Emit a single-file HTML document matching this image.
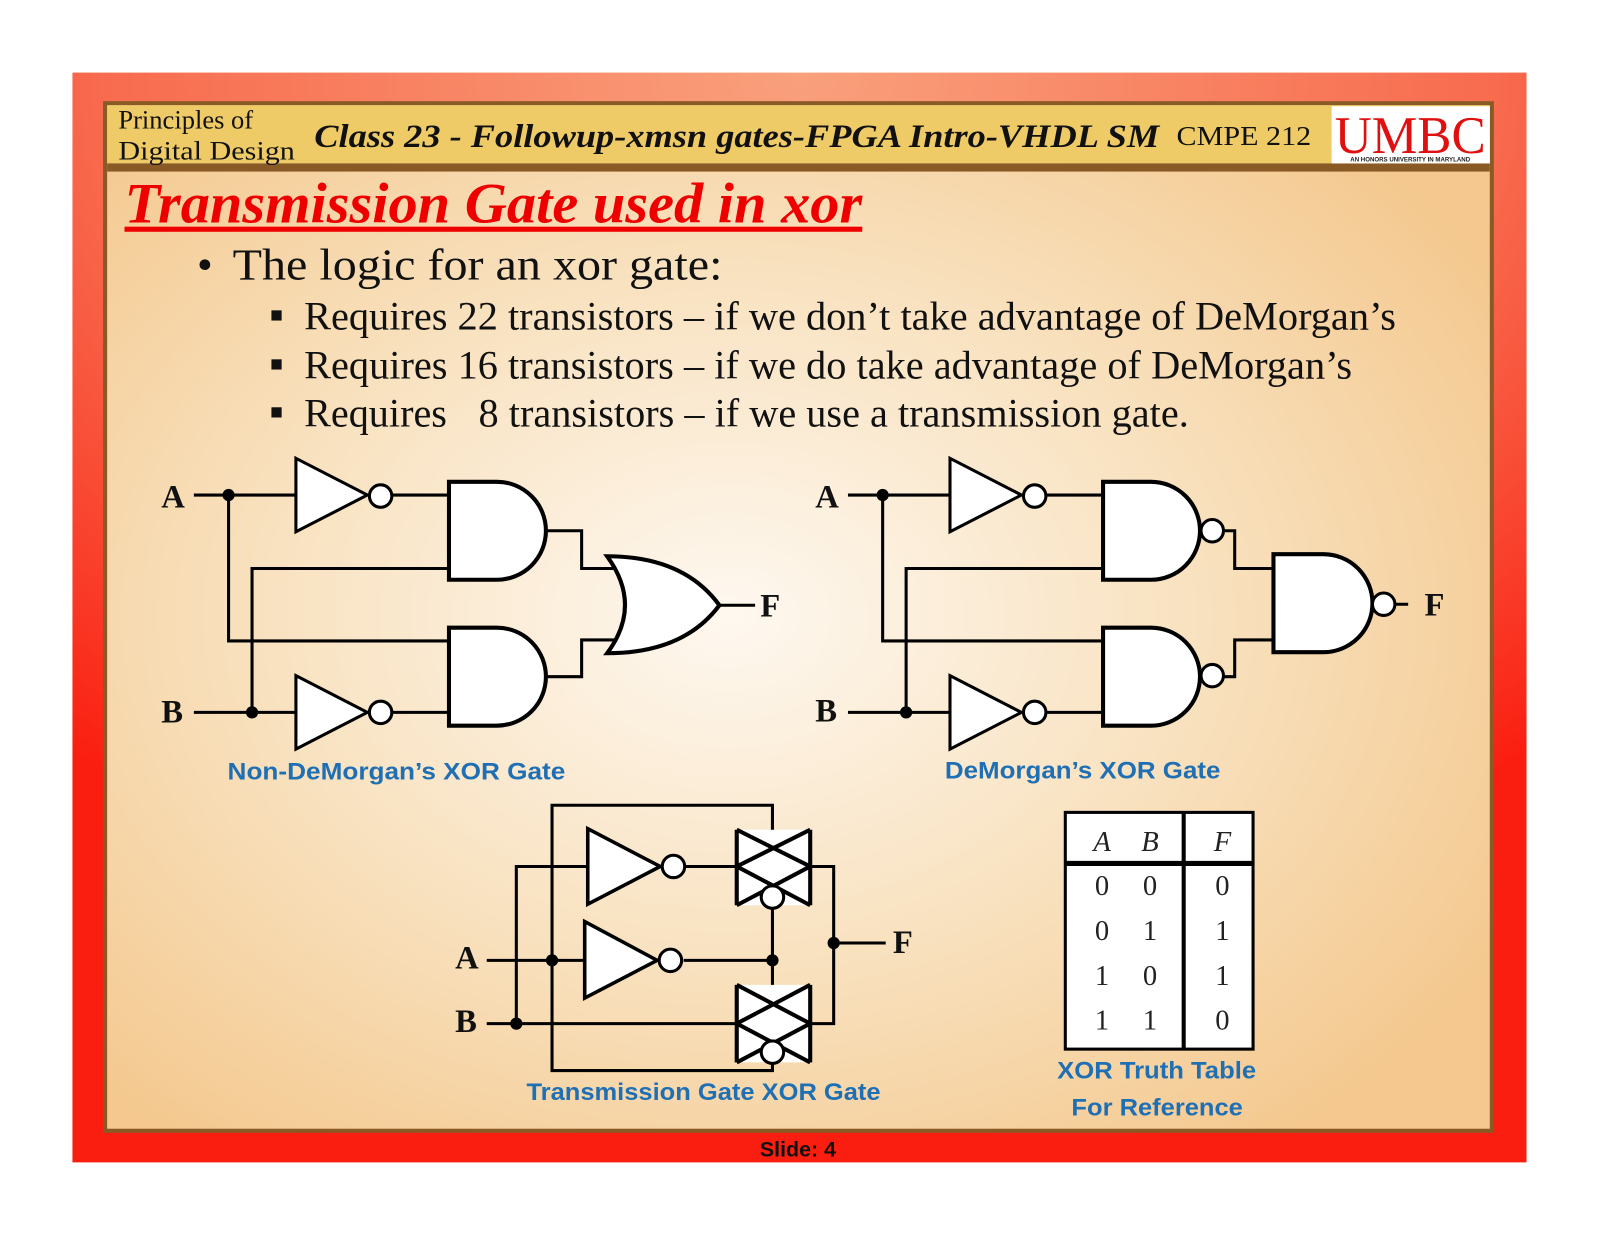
<!DOCTYPE html>
<html><head><meta charset="utf-8"><style>
html,body{margin:0;padding:0;background:#fff;}
svg{display:block;}
</style></head><body>
<svg width="1600" height="1236" viewBox="0 0 1568 1211" xmlns="http://www.w3.org/2000/svg">
<defs>
<radialGradient id="red" cx="0.5" cy="0" r="0.8">
<stop offset="0" stop-color="#F9A07C"/><stop offset="0.6" stop-color="#F86B4E"/><stop offset="1" stop-color="#FA1E10"/>
</radialGradient>
<radialGradient id="cream" cx="0.45" cy="0.5" r="0.65">
<stop offset="0" stop-color="#FEF8F0"/><stop offset="0.55" stop-color="#F8E0BC"/><stop offset="1" stop-color="#F4C88E"/>
</radialGradient>
</defs>
<rect x="0" y="0" width="1568" height="1211" fill="#fff"/>
<rect x="71" y="71" width="1425" height="1068" fill="url(#red)"/>
<rect x="103" y="101" width="1359" height="1007" fill="url(#cream)" stroke="#8A5A26" stroke-width="4"/>
<rect x="105" y="103" width="1355" height="57" fill="#EFCB68"/>
<rect x="105" y="160" width="1355" height="8" fill="#8A5A26"/>
<rect x="1305" y="104" width="155" height="56" fill="#fff"/>
<text x="1382" y="150" text-anchor="middle" font-family="Liberation Serif,serif" font-size="52" fill="#E01010" textLength="148" lengthAdjust="spacingAndGlyphs">UMBC</text>
<text x="1382" y="158" text-anchor="middle" font-family="Liberation Sans,sans-serif" font-size="6" font-weight="bold" fill="#222">AN HONORS UNIVERSITY IN MARYLAND</text>
<g font-family="Liberation Serif,serif" fill="#111" xml:space="preserve">
<text x="116" y="126" font-size="26">Principles of</text>
<text x="116" y="156" font-size="26" textLength="173" lengthAdjust="spacingAndGlyphs">Digital Design</text>
<text x="308" y="144" font-size="32" font-style="italic" font-weight="bold" textLength="828" lengthAdjust="spacingAndGlyphs">Class 23 - Followup-xmsn gates-FPGA Intro-VHDL SM</text>
<text x="1153" y="142" font-size="27" textLength="132" lengthAdjust="spacingAndGlyphs">CMPE 212</text>
<text x="122" y="218" font-size="56" font-style="italic" font-weight="bold" fill="#E00" textLength="723" lengthAdjust="spacingAndGlyphs">Transmission Gate used in xor</text>
<text x="193" y="274" font-size="44">•</text>
<text x="228" y="274" font-size="44" textLength="480" lengthAdjust="spacingAndGlyphs">The logic for an xor gate:</text>
<text x="298" y="323" font-size="39" textLength="1070" lengthAdjust="spacingAndGlyphs">Requires 22 transistors – if we don’t take advantage of DeMorgan’s</text>
<text x="298" y="371" font-size="39" textLength="1027" lengthAdjust="spacingAndGlyphs">Requires 16 transistors – if we do take advantage of DeMorgan’s</text>
<text x="298" y="418" font-size="39" textLength="140" lengthAdjust="spacingAndGlyphs">Requires</text>
<text x="469" y="418" font-size="39" textLength="696" lengthAdjust="spacingAndGlyphs">8 transistors – if we use a transmission gate.</text>
</g>
<rect x="122" y="222" width="723" height="5" fill="#E00"/>
<rect x="266" y="304" width="10" height="10" fill="#111"/>
<rect x="266" y="352" width="10" height="10" fill="#111"/>
<rect x="266" y="399" width="10" height="10" fill="#111"/>

<g stroke="#000" stroke-width="3" fill="none">
<!-- circuit 1 -->
<path d="M190 485H290M385 485H440M190 698H290M385 698H440M224 485V628H440M247 698V557H440M535 520H570V557H610M535 663H570V627H610M705 593H740"/>
<path d="M290 449L360 485L290 521Z M290 662L360 698L290 734Z" fill="#fff"/>
<circle cx="373" cy="486" r="11" fill="#fff"/><circle cx="373" cy="698" r="11" fill="#fff"/>
<path d="M440 472H487A48 48 0 0 1 487 568H440Z M440 615H487A48 48 0 0 1 487 711H440Z" fill="#fff" stroke-width="4"/>
<path d="M595 545Q670 545 705 593Q670 640 595 640Q630 593 595 545Z" fill="#fff" stroke-width="4"/>
<!-- circuit 2 -->
<path d="M831 485H931M1026 485H1081M831 698H931M1026 698H1081M865 485V628H1081M888 698V557H1081M1199 520H1210V557H1248M1199 663H1210V627H1248M1368 592H1380"/>
<path d="M931 449L1001 485L931 521Z M931 662L1001 698L931 734Z" fill="#fff"/>
<circle cx="1014" cy="486" r="11" fill="#fff"/><circle cx="1014" cy="698" r="11" fill="#fff"/>
<path d="M1081 472H1128A48 48 0 0 1 1128 568H1081Z M1081 615H1128A48 48 0 0 1 1128 711H1081Z M1248 543H1297A48 48 0 0 1 1297 639H1248Z" fill="#fff" stroke-width="4"/>
<circle cx="1188" cy="520" r="11" fill="#fff"/><circle cx="1188" cy="662" r="11" fill="#fff"/><circle cx="1356" cy="592" r="11" fill="#fff"/>
<!-- circuit 3 -->
<path d="M477 941H575M670 941H757M477 1003H722M541 941V789H757V831M541 941V1049H757V1040M506 1003V849H576M671 849H722M757 890V984M794 849H817V1003H794M817 924H868"/>
<path d="M576 812L647 849L576 886Z M573 903L644 941L573 978Z" fill="#fff" stroke-width="3.5"/>
<circle cx="660" cy="849" r="11" fill="#fff"/><circle cx="657" cy="941" r="11" fill="#fff"/>
<g stroke-width="4">
<path d="M722 813V887H794V813Z" fill="#fff" stroke="none"/>
<path d="M722 813V887M794 813V887M722 813L794 849M794 813L722 849M722 849L794 887M794 849L722 887"/>
<path d="M722 965V1041H794V965Z" fill="#fff" stroke="none"/>
<path d="M722 965V1041M794 965V1041M722 965L794 1003M794 965L722 1003M722 1003L794 1041M794 1003L722 1041"/>
</g>
<circle cx="757" cy="879" r="11" fill="#fff"/><circle cx="757" cy="1031" r="11" fill="#fff"/>
</g>
<g fill="#000">
<circle cx="224" cy="485" r="6"/><circle cx="247" cy="698" r="6"/>
<circle cx="865" cy="485" r="6"/><circle cx="888" cy="698" r="6"/>
<circle cx="541" cy="941" r="6"/><circle cx="506" cy="1003" r="6"/><circle cx="757" cy="941" r="6"/><circle cx="817" cy="924" r="6"/>
</g>
<g font-family="Liberation Serif,serif" font-weight="bold" font-size="32" fill="#111">
<text x="158" y="497">A</text><text x="158" y="708">B</text><text x="745" y="604">F</text>
<text x="799" y="497">A</text><text x="799" y="707">B</text><text x="1396" y="603">F</text>
<text x="446" y="949">A</text><text x="446" y="1011">B</text><text x="875" y="934">F</text>
</g>
<!-- truth table -->
<rect x="1044" y="796" width="184" height="232" fill="#fff" stroke="#000" stroke-width="3"/>
<path d="M1160 796V1028" stroke="#000" stroke-width="4"/>
<path d="M1044 846H1228" stroke="#000" stroke-width="5"/>
<g font-family="Liberation Serif,serif" font-size="28" fill="#222" text-anchor="middle">
<g font-style="italic"><text x="1080" y="834">A</text><text x="1127" y="834">B</text><text x="1198" y="834">F</text></g>
<text x="1080" y="877">0</text><text x="1127" y="877">0</text><text x="1198" y="877">0</text>
<text x="1080" y="921">0</text><text x="1127" y="921">1</text><text x="1198" y="921">1</text>
<text x="1080" y="965">1</text><text x="1127" y="965">0</text><text x="1198" y="965">1</text>
<text x="1080" y="1009">1</text><text x="1127" y="1009">1</text><text x="1198" y="1009">0</text>
</g>
<g font-family="Liberation Sans,sans-serif" font-weight="bold" font-size="24" fill="#1F6FB5">
<text x="223" y="764" textLength="331" lengthAdjust="spacingAndGlyphs">Non-DeMorgan’s XOR Gate</text>
<text x="926" y="763" textLength="270" lengthAdjust="spacingAndGlyphs">DeMorgan’s XOR Gate</text>
<text x="516" y="1078" textLength="347" lengthAdjust="spacingAndGlyphs">Transmission Gate XOR Gate</text>
<text x="1036" y="1057" textLength="195" lengthAdjust="spacingAndGlyphs">XOR Truth Table</text>
<text x="1050" y="1093" textLength="168" lengthAdjust="spacingAndGlyphs">For Reference</text>
</g>
<text x="782" y="1133" text-anchor="middle" font-family="Liberation Sans,sans-serif" font-weight="bold" font-size="21" fill="#111">Slide: 4</text>
</svg>
</body></html>
